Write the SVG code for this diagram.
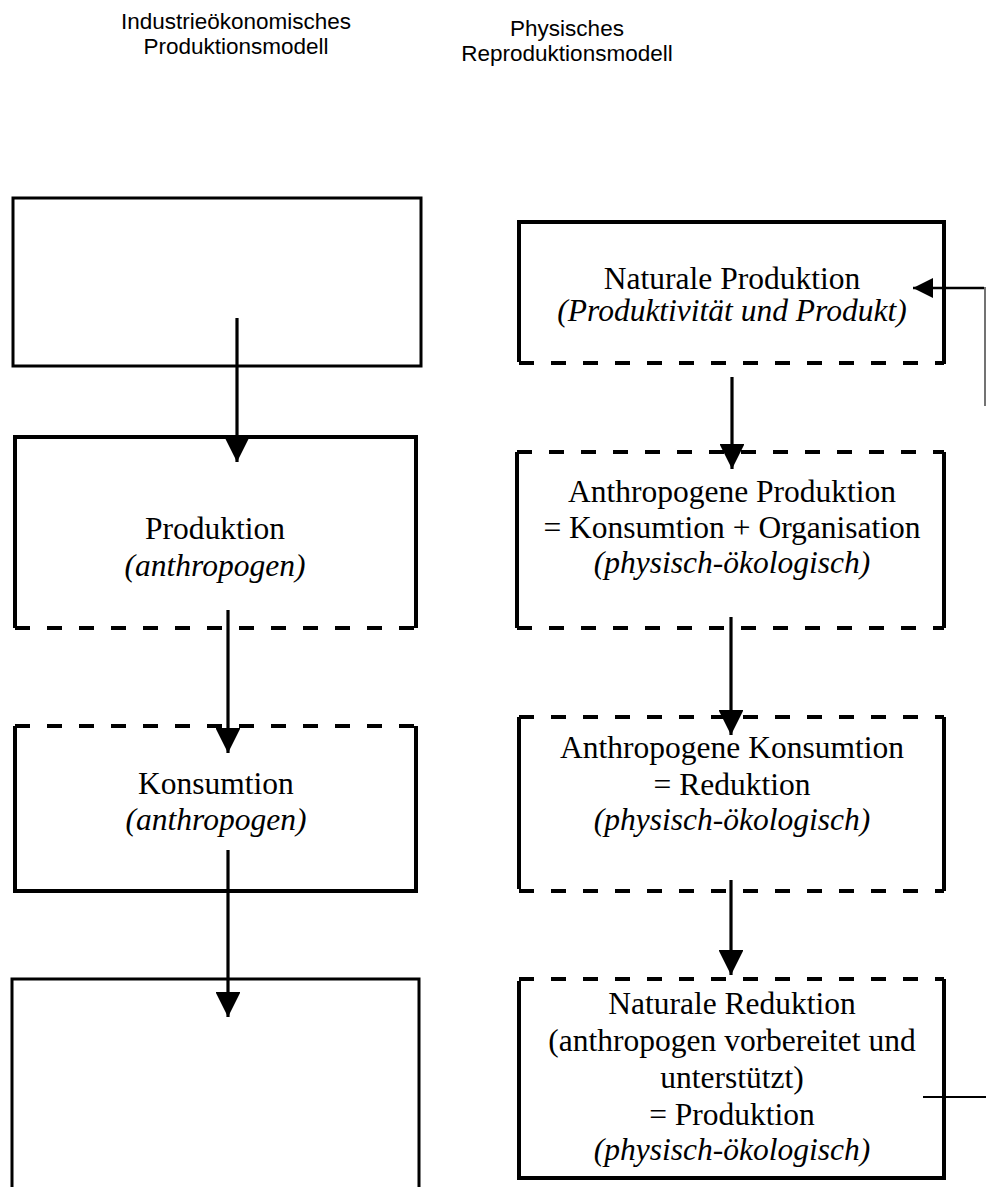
<svg xmlns="http://www.w3.org/2000/svg" width="986" height="1187" viewBox="0 0 986 1187">
<style>
.hdr{font-family:"Liberation Sans",Arial,sans-serif;font-size:22.5px;fill:#000;text-anchor:middle}
.t{font-family:"Liberation Serif","Times New Roman",serif;font-size:31.5px;fill:#000;text-anchor:middle}
.i{font-style:italic}
.s{fill:none;stroke:#000;stroke-width:4}
.s3{fill:none;stroke:#000;stroke-width:3}
.d{fill:none;stroke:#000;stroke-width:4;stroke-dasharray:15 17}
.c{fill:none;stroke:#000;stroke-width:3.2}
</style>
<defs>
<marker id="ah" viewBox="0 0 10 10" refX="10" refY="5" markerWidth="7.8" markerHeight="7.8" markerUnits="strokeWidth" orient="auto">
<path d="M0,0 L10,5 L0,10 Z" fill="#000"/>
</marker>
</defs>

<g id="header-left">
<text class="hdr" x="236" y="29">Industrieökonomisches</text>
<text class="hdr" x="236" y="54">Produktionsmodell</text>
</g>
<g id="header-right">
<text class="hdr" x="567" y="36">Physisches</text>
<text class="hdr" x="567" y="61">Reproduktionsmodell</text>
</g>

<g id="L1">
<rect class="s3" x="13" y="198" width="408" height="168"/>
</g>
<g id="L2">
<path class="s" d="M15,628 V437 H416 V628"/>
<path class="d" d="M15,628 H416"/>
<text class="t" x="215" y="539">Produktion</text>
<text class="t i" x="215" y="576">(anthropogen)</text>
</g>
<g id="L3">
<path class="d" d="M15,726 H416"/>
<path class="s" d="M15,726 V891 H416 V726"/>
<text class="t" x="216" y="794">Konsumtion</text>
<text class="t i" x="216" y="830">(anthropogen)</text>
</g>
<g id="L4">
<path class="s3" d="M12,1190 V979 H419 V1190"/>
</g>

<g id="R1">
<path class="s" d="M519,362 V222 H944 V364"/>
<path class="d" d="M519,363 H944"/>
<text class="t" x="732" y="289">Naturale Produktion</text>
<text class="t i" x="732" y="321">(Produktivität und Produkt)</text>
</g>
<g id="R2">
<path class="d" d="M517,452 H944"/>
<path class="d" d="M517,628 H944"/>
<path class="s" d="M517,452 V628 M944,452 V628"/>
<text class="t" x="732" y="502">Anthropogene Produktion</text>
<text class="t" x="732" y="538">= Konsumtion + Organisation</text>
<text class="t i" x="732" y="573">(physisch-ökologisch)</text>
</g>
<g id="R3">
<path class="d" d="M519,717 H944"/>
<path class="d" d="M519,891 H944"/>
<path class="s" d="M519,717 V889 M944,717 V891"/>
<text class="t" x="732" y="758">Anthropogene Konsumtion</text>
<text class="t" x="732" y="795">= Reduktion</text>
<text class="t i" x="732" y="830">(physisch-ökologisch)</text>
</g>
<g id="R4">
<path class="d" d="M519,979 H944"/>
<path class="s" d="M519,981 V1178 H944 V979"/>
<text class="t" x="732" y="1014">Naturale Reduktion</text>
<text class="t" x="732" y="1051">(anthropogen vorbereitet und</text>
<text class="t" x="732" y="1088">unterstützt)</text>
<text class="t" x="732" y="1125">= Produktion</text>
<text class="t i" x="732" y="1160">(physisch-ökologisch)</text>
</g>

<g id="connectors">
<line class="c" x1="237" y1="318" x2="237" y2="462" marker-end="url(#ah)"/>
<line class="c" x1="228" y1="610" x2="228" y2="753" marker-end="url(#ah)"/>
<line class="c" x1="228" y1="850" x2="228" y2="1017" marker-end="url(#ah)"/>
<line class="c" x1="732" y1="377" x2="732" y2="469" marker-end="url(#ah)"/>
<line class="c" x1="731" y1="617" x2="731" y2="735" marker-end="url(#ah)"/>
<line class="c" x1="731" y1="880" x2="731" y2="975" marker-end="url(#ah)"/>
<line x1="984" y1="288" x2="913" y2="288" stroke="#000" stroke-width="2.6" marker-end="url(#ah)"/>
<line x1="985" y1="287" x2="985" y2="406" stroke="#444" stroke-width="1.5"/>
<line x1="923" y1="1097" x2="986" y2="1097" stroke="#000" stroke-width="2"/>
</g>
</svg>
